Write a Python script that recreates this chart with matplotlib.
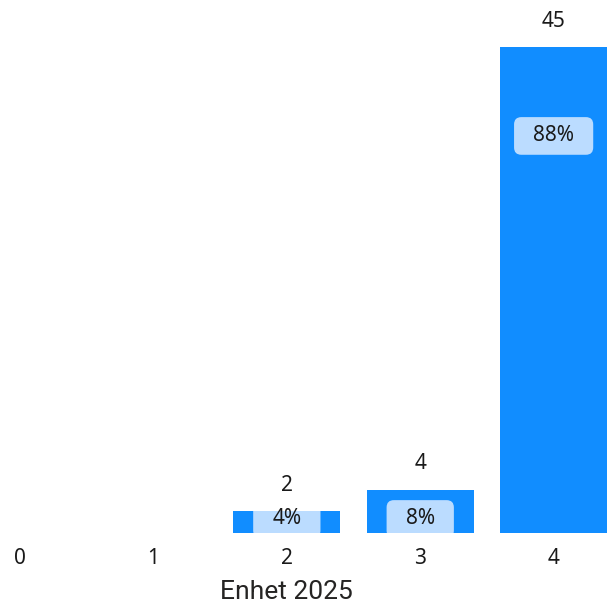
import matplotlib
matplotlib.use("Agg")
import matplotlib.pyplot as plt

categories = ["0", "1", "2", "3", "4"]
counts = [0, 0, 2, 4, 45]
pct_labels = ["", "", "4%", "8%", "88%"]
axis_title = "Enhet 2025"

BAR = "#118DFF"
BOX = "#BBDCFF"
TXT = "#1a1a1a"
FONT = ["Noto Sans", "DejaVu Sans"]
FS = 15

fig = plt.figure(figsize=(6.07, 6.07), dpi=100)
ax = fig.add_axes([0, 74/607, 1, 533/607])
x = list(range(len(categories)))
bars = ax.bar(x, counts, width=0.8, color=BAR, zorder=2)
ax.set_xlim(-0.15, 4.40)
ax.set_ylim(0, 49.4)
for s in ax.spines.values():
    s.set_visible(False)
ax.set_yticks([])
ax.set_xticks(x)
ax.set_xticklabels(categories, fontsize=FS, color=TXT, family=FONT)
ax.tick_params(axis="x", length=0, pad=11)
ax.annotate(axis_title, xy=((x[0] + x[-1]) / 2, 0), xycoords=("data", "axes fraction"),
            xytext=(0, -59), textcoords="offset pixels", ha="center", va="center",
            fontsize=19, color="#252423", family="Roboto", annotation_clip=False)

for xi, v, p, b in zip(x, counts, pct_labels, bars):
    if v <= 0:
        continue
    ax.annotate(str(v), (xi, v), xytext=(0, 26), textcoords="offset pixels",
                ha="center", va="center", fontsize=FS, color=TXT, family=FONT)
    ypos = max(v - 8.2, 1.3)
    box = ax.text(xi, ypos, "  " + p + "  ", ha="center", va="center", fontsize=FS,
                  color="none", family=FONT, zorder=3,
                  bbox=dict(boxstyle="round,pad=0.4,rounding_size=0.35", fc=BOX, ec="none"))
    patch = box.get_bbox_patch()
    patch.set_clip_on(True)
    patch.set_clip_path(b)
    ax.text(xi, ypos, p, ha="center", va="center", fontsize=FS, color=TXT,
            family=FONT, zorder=4)

fig.savefig("out.png", dpi=100)
